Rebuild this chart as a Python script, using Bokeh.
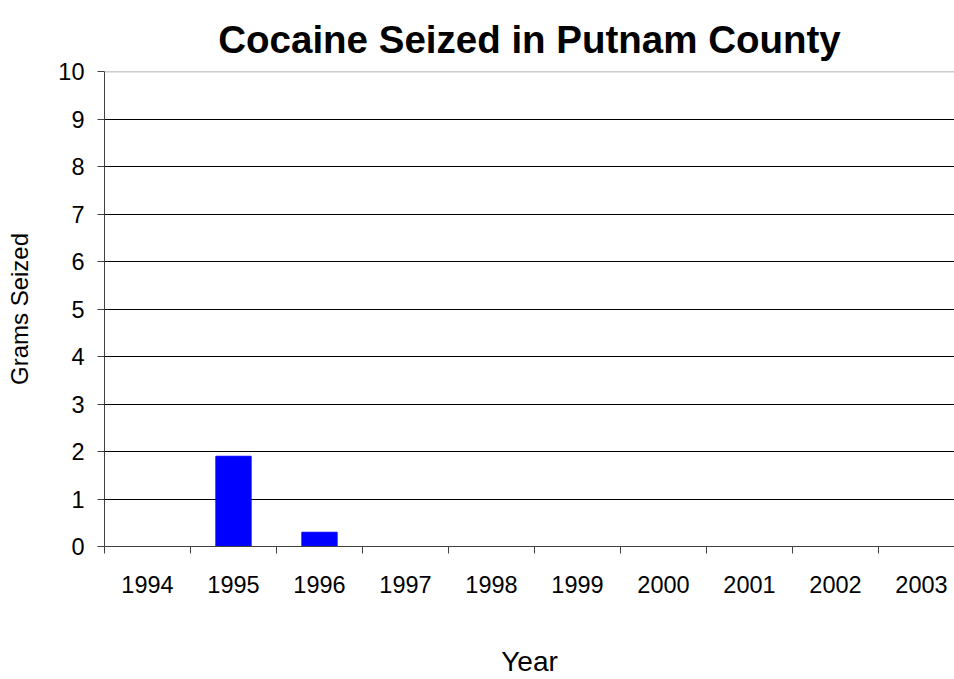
from bokeh.plotting import figure
from bokeh.models import FixedTicker, Span, Range1d
from bokeh.embed import file_html
from bokeh.resources import INLINE

# Grams of cocaine seized per year
years = ["1994", "1995", "1996", "1997", "1998", "1999", "2000", "2001", "2002", "2003"]
grams = [0, 1.9, 0.3, 0, 0, 0, 0, 0, 0, 0]
y_ticks = [0, 1, 2, 3, 4, 5, 6, 7, 8, 9, 10]

FONT = "Liberation Sans"

xs = list(range(len(years)))

p = figure(width=954, height=679, output_backend="svg", toolbar_location=None,
           x_range=Range1d(-0.5, 9.384), y_range=Range1d(0, 10),
           min_border_left=104, min_border_right=0, min_border_top=71,
           min_border_bottom=133)

p.title.text = "Cocaine Seized in Putnam County"
p.title.text_font = FONT
p.title.text_font_size = "38.5px"
p.title.text_font_style = "bold"
p.title.align = "center"
p.title.vertical_align = "top"
p.title.text_color = "black"
p.title.standoff = 18
p.title.padding = 0

p.outline_line_color = None
p.background_fill_color = "white"
p.border_fill_color = "white"

# bars for non-zero years
bx = [x for x, g in zip(xs, grams) if g > 0]
bg = [g for g in grams if g > 0]
p.vbar(x=bx, top=bg, bottom=0, width=0.41, fill_color="#0000ff", line_color="#0000ff")

# category axis: labels at centres, ticks at boundaries
xt = FixedTicker(ticks=xs, minor_ticks=[i - 0.5 for i in range(len(years) + 1)])
p.xaxis.ticker = xt
p.xaxis.major_label_overrides = {i: y for i, y in enumerate(years)}
p.xaxis.major_tick_out = 0
p.xaxis.major_tick_in = 0
p.xaxis.minor_tick_out = 7
p.xaxis.minor_tick_in = 0
p.xaxis.minor_tick_line_color = "#404040"
p.xaxis.axis_line_color = "#404040"
p.xaxis.major_label_text_font = FONT
p.xaxis.major_label_text_font_size = "23.5px"
p.xaxis.major_label_text_color = "black"
p.xaxis.major_label_standoff = 22
p.xaxis.axis_label = "Year"
p.xaxis.axis_label_text_font = FONT
p.xaxis.axis_label_text_font_size = "28px"
p.xaxis.axis_label_text_font_style = "normal"
p.xaxis.axis_label_text_color = "black"
p.xaxis.axis_label_standoff = 50
p.xgrid.visible = False

p.yaxis.ticker = FixedTicker(ticks=y_ticks)
p.yaxis.minor_tick_line_color = None
p.yaxis.major_tick_out = 7
p.yaxis.major_tick_in = 0
p.yaxis.major_tick_line_color = "#404040"
p.yaxis.axis_line_color = "#404040"
p.yaxis.major_label_text_font = FONT
p.yaxis.major_label_text_font_size = "23.5px"
p.yaxis.major_label_text_color = "black"
p.yaxis.major_label_standoff = 13
p.yaxis.axis_label = "Grams Seized"
p.yaxis.axis_label_text_font = FONT
p.yaxis.axis_label_text_font_size = "24px"
p.yaxis.axis_label_text_font_style = "normal"
p.yaxis.axis_label_text_color = "black"
p.yaxis.axis_label_standoff = 22

p.ygrid.ticker = FixedTicker(ticks=y_ticks[1:-1])
p.ygrid.grid_line_color = "black"
p.ygrid.grid_line_width = 1

p.add_layout(Span(location=10, dimension="width", line_color="#999999", line_width=1.5))

open("out.html", "w").write(file_html(p, INLINE))
